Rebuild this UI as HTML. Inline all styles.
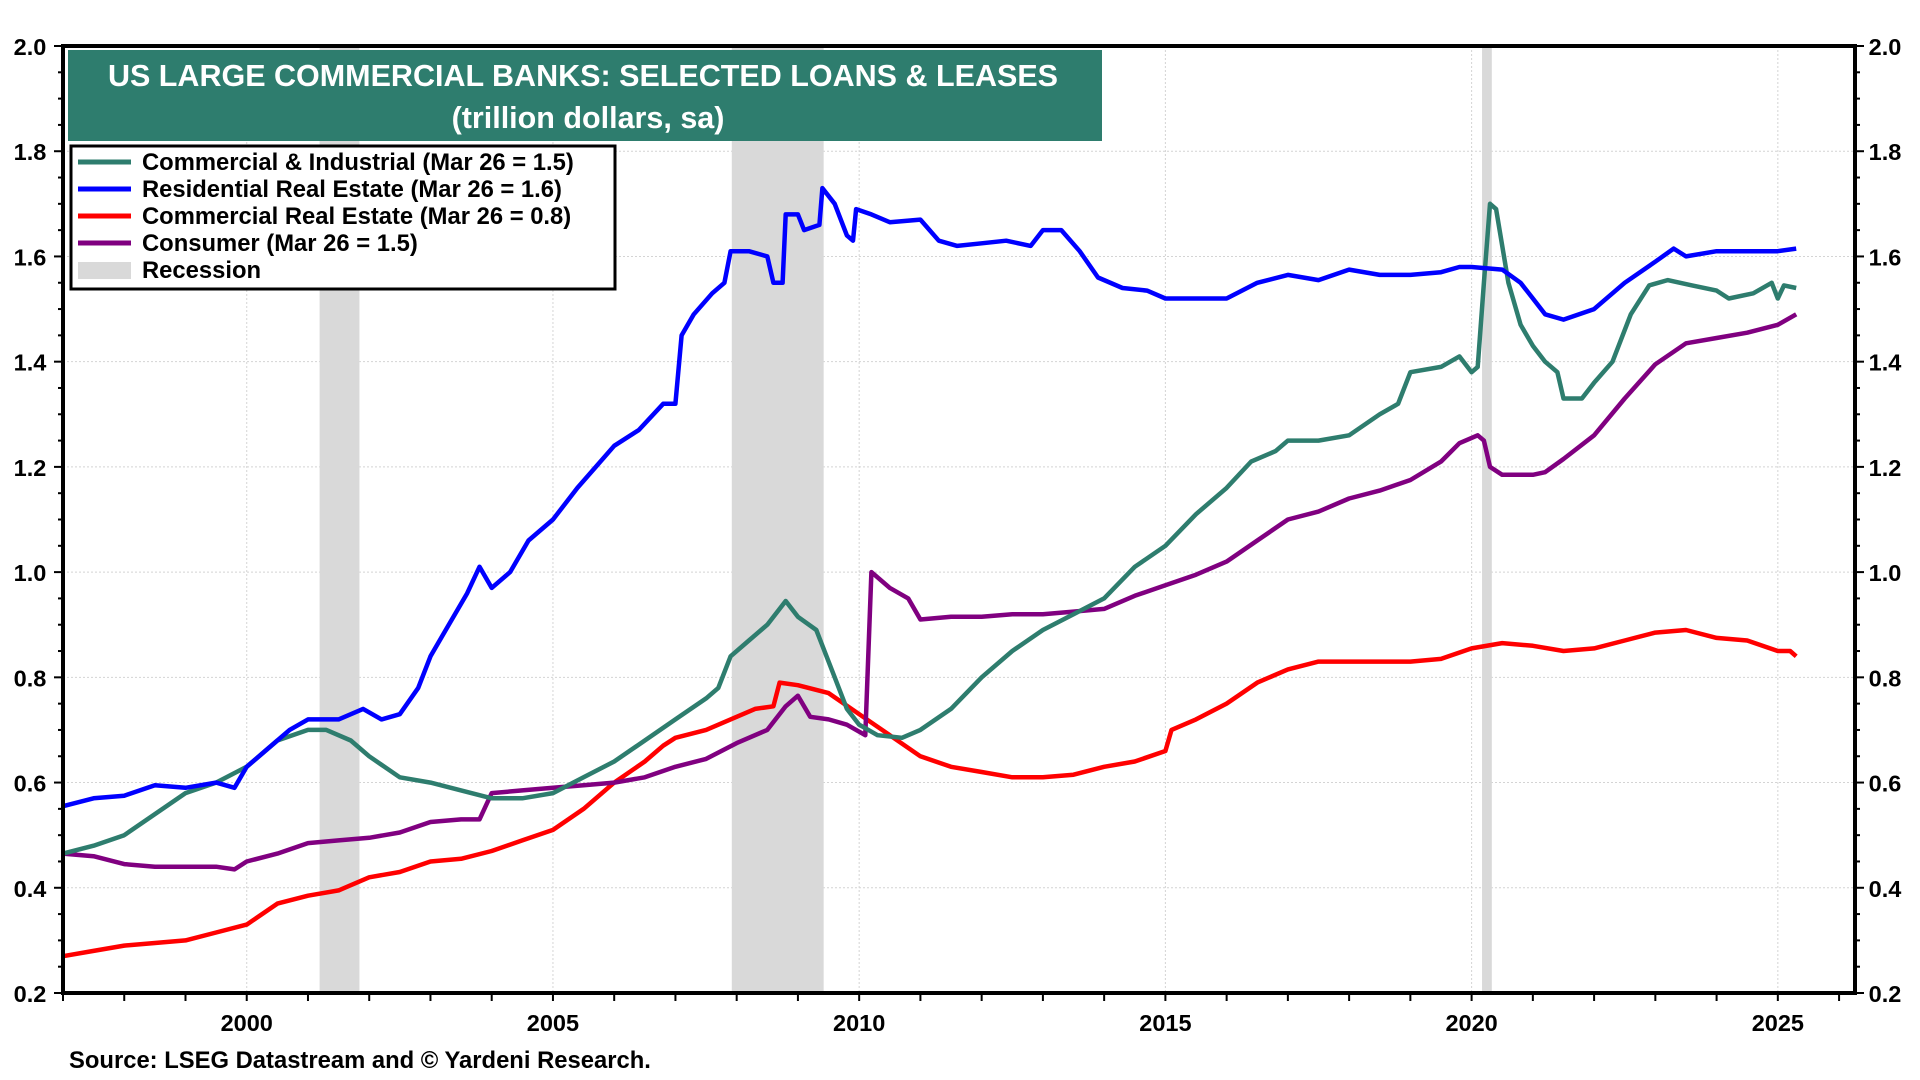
<!DOCTYPE html>
<html><head><meta charset="utf-8"><style>
html,body{margin:0;padding:0;background:#fff;}
svg{display:block;font-family:"Liberation Sans",Arial,sans-serif;font-weight:bold;}
</style></head><body>
<svg id="chart" width="1920" height="1080" viewBox="0 0 1920 1080" xmlns="http://www.w3.org/2000/svg">
<g id="grid"></g>
<g id="recessions"></g>
<g id="series"></g>
<g id="axes"></g>
<rect x="68" y="50" width="1034" height="91" fill="#2e7d6e"/>
<text x="583" y="86" text-anchor="middle" fill="#fff" font-size="30.5">US LARGE COMMERCIAL BANKS: SELECTED LOANS &amp; LEASES</text>
<text x="588" y="128" text-anchor="middle" fill="#fff" font-size="30.5">(trillion dollars, sa)</text>
<g>
<rect x="71" y="146" width="544" height="143" fill="#fff" stroke="#000" stroke-width="3"/>
<line x1="78" y1="162" x2="131" y2="162" stroke="#2e7d6e" stroke-width="5"/>
<text x="142" y="170" font-size="23.8">Commercial &amp; Industrial (Mar 26 = 1.5)</text>
<line x1="78" y1="189" x2="131" y2="189" stroke="#0000ff" stroke-width="5"/>
<text x="142" y="197" font-size="23.8">Residential Real Estate (Mar 26 = 1.6)</text>
<line x1="78" y1="216" x2="131" y2="216" stroke="#ff0000" stroke-width="5"/>
<text x="142" y="224" font-size="23.8">Commercial Real Estate (Mar 26 = 0.8)</text>
<line x1="78" y1="243" x2="131" y2="243" stroke="#800080" stroke-width="5"/>
<text x="142" y="251" font-size="23.8">Consumer (Mar 26 = 1.5)</text>
<rect x="78" y="262" width="53" height="17" fill="#d9d9d9"/>
<text x="142" y="278" font-size="23.8">Recession</text>
</g>
<text x="69" y="1068" font-size="23.8">Source: LSEG Datastream and © Yardeni Research.</text>
</svg>
<script>
const yTicks=[0.2,0.4,0.6,0.8,1.0,1.2,1.4,1.6,1.8,2.0];
const xTickLabels=[2000,2005,2010,2015,2020,2025];
const recessionStarts=[2001.19,2007.92,2020.17];
const recessionEnds=[2001.84,2009.42,2020.33];
const ciX=[1997,1997.5,1998,1998.5,1999,1999.5,2000,2000.5,2001,2001.3,2001.7,2002,2002.5,2003,2003.5,2004,2004.5,2005,2005.5,2006,2006.5,2007,2007.5,2007.7,2007.9,2008.2,2008.5,2008.8,2009,2009.3,2009.6,2009.8,2010,2010.3,2010.7,2011,2011.5,2012,2012.5,2013,2013.5,2014,2014.5,2015,2015.5,2016,2016.4,2016.8,2017,2017.5,2018,2018.5,2018.8,2019,2019.5,2019.8,2020,2020.1,2020.2,2020.3,2020.4,2020.6,2020.8,2021,2021.2,2021.4,2021.5,2021.8,2022,2022.3,2022.6,2022.9,2023.2,2023.6,2024,2024.2,2024.6,2024.9,2025,2025.1,2025.3];
const ciY=[0.465,0.48,0.50,0.54,0.58,0.60,0.63,0.68,0.70,0.70,0.68,0.65,0.61,0.60,0.585,0.57,0.57,0.58,0.61,0.64,0.68,0.72,0.76,0.78,0.84,0.87,0.90,0.945,0.915,0.89,0.80,0.74,0.71,0.69,0.685,0.70,0.74,0.80,0.85,0.89,0.92,0.95,1.01,1.05,1.11,1.16,1.21,1.23,1.25,1.25,1.26,1.30,1.32,1.38,1.39,1.41,1.38,1.39,1.55,1.70,1.69,1.55,1.47,1.43,1.40,1.38,1.33,1.33,1.36,1.40,1.49,1.545,1.555,1.545,1.535,1.52,1.53,1.55,1.52,1.545,1.54];
const rreX=[1997,1997.5,1998,1998.5,1999,1999.5,1999.8,2000,2000.3,2000.7,2001,2001.5,2001.9,2002.2,2002.5,2002.8,2003,2003.3,2003.6,2003.8,2004,2004.3,2004.6,2005,2005.4,2005.7,2006,2006.4,2006.8,2007,2007.1,2007.3,2007.6,2007.8,2007.9,2008.2,2008.5,2008.6,2008.75,2008.8,2009,2009.1,2009.35,2009.4,2009.6,2009.8,2009.9,2009.95,2010.2,2010.5,2011,2011.3,2011.6,2012,2012.4,2012.8,2013,2013.3,2013.6,2013.9,2014.3,2014.7,2015,2015.5,2016,2016.5,2017,2017.5,2018,2018.5,2019,2019.5,2019.8,2020,2020.5,2020.8,2021,2021.2,2021.5,2022,2022.5,2023,2023.3,2023.5,2024,2024.5,2025,2025.3];
const rreY=[0.555,0.57,0.575,0.595,0.59,0.60,0.59,0.63,0.66,0.70,0.72,0.72,0.74,0.72,0.73,0.78,0.84,0.90,0.96,1.01,0.97,1.00,1.06,1.10,1.16,1.20,1.24,1.27,1.32,1.32,1.45,1.49,1.53,1.55,1.61,1.61,1.60,1.55,1.55,1.68,1.68,1.65,1.66,1.73,1.70,1.64,1.63,1.69,1.68,1.665,1.67,1.63,1.62,1.625,1.63,1.62,1.65,1.65,1.61,1.56,1.54,1.535,1.52,1.52,1.52,1.55,1.565,1.555,1.575,1.565,1.565,1.57,1.58,1.58,1.575,1.55,1.52,1.49,1.48,1.50,1.55,1.59,1.615,1.60,1.61,1.61,1.61,1.615];
const creX=[1997,1997.5,1998,1998.5,1999,1999.5,2000,2000.5,2001,2001.5,2002,2002.5,2003,2003.5,2004,2004.5,2005,2005.5,2006,2006.5,2006.8,2007,2007.5,2008,2008.3,2008.6,2008.7,2009,2009.5,2010,2010.5,2011,2011.5,2012,2012.5,2013,2013.5,2014,2014.5,2015,2015.1,2015.5,2016,2016.5,2017,2017.5,2018,2018.5,2019,2019.5,2020,2020.5,2021,2021.5,2022,2022.5,2023,2023.5,2024,2024.5,2025,2025.2,2025.3];
const creY=[0.27,0.28,0.29,0.295,0.30,0.315,0.33,0.37,0.385,0.395,0.42,0.43,0.45,0.455,0.47,0.49,0.51,0.55,0.60,0.64,0.67,0.685,0.70,0.725,0.74,0.745,0.79,0.785,0.77,0.73,0.69,0.65,0.63,0.62,0.61,0.61,0.615,0.63,0.64,0.66,0.70,0.72,0.75,0.79,0.815,0.83,0.83,0.83,0.83,0.835,0.855,0.865,0.86,0.85,0.855,0.87,0.885,0.89,0.875,0.87,0.85,0.85,0.84];
const conX=[1997,1997.5,1998,1998.5,1999,1999.5,1999.8,2000,2000.5,2001,2001.5,2002,2002.5,2003,2003.5,2003.8,2004,2004.5,2005,2005.5,2006,2006.5,2007,2007.5,2008,2008.5,2008.8,2009,2009.2,2009.5,2009.8,2010.1,2010.2,2010.5,2010.8,2011,2011.5,2012,2012.5,2013,2013.5,2014,2014.5,2015,2015.5,2016,2016.5,2017,2017.5,2018,2018.5,2019,2019.5,2019.8,2020.1,2020.2,2020.3,2020.5,2021,2021.2,2021.5,2022,2022.5,2023,2023.5,2024,2024.5,2025,2025.3];
const conY=[0.465,0.46,0.445,0.44,0.44,0.44,0.435,0.45,0.465,0.485,0.49,0.495,0.505,0.525,0.53,0.53,0.58,0.585,0.59,0.595,0.60,0.61,0.63,0.645,0.675,0.70,0.745,0.765,0.725,0.72,0.71,0.69,1.00,0.97,0.95,0.91,0.915,0.915,0.92,0.92,0.925,0.93,0.955,0.975,0.995,1.02,1.06,1.10,1.115,1.14,1.155,1.175,1.21,1.245,1.26,1.25,1.20,1.185,1.185,1.19,1.215,1.26,1.33,1.395,1.435,1.445,1.455,1.47,1.49];

const NS='http://www.w3.org/2000/svg';
const L=63,R=1855,T=46,B=993;
const x0=1997.0,x1=2026.26,v0=0.2,v1=2.0;
function xs(v){return L+(v-x0)/(x1-x0)*(R-L);}
function ys(v){return B-(v-v0)/(v1-v0)*(B-T);}
function mk(tag,attrs,parent){const e=document.createElementNS(NS,tag);for(const k in attrs)e.setAttribute(k,attrs[k]);parent.appendChild(e);return e;}
const grid=document.getElementById('grid'),axes=document.getElementById('axes'),rec=document.getElementById('recessions'),ser=document.getElementById('series');

yTicks.forEach(t=>{
  if(t>v0&&t<v1){const g=mk('line',{x1:L,x2:R,y1:ys(t),y2:ys(t),stroke:'#d4d4d4','stroke-width':1,'stroke-dasharray':'2,2'},grid);
  
  }
  const a=mk('text',{x:30,y:ys(t)+9,'text-anchor':'middle','font-size':23.5},axes);a.textContent=t.toFixed(1);
  
  
  const b=mk('text',{x:1885,y:ys(t)+9,'text-anchor':'middle','font-size':23.5},axes);b.textContent=t.toFixed(1);
  
  
});
xTickLabels.forEach(t=>{
  const g=mk('line',{x1:xs(t),x2:xs(t),y1:T,y2:B,stroke:'#d4d4d4','stroke-width':1,'stroke-dasharray':'2,2'},grid);
  
  
  const a=mk('text',{x:xs(t),y:1031,'text-anchor':'middle','font-size':23.5},axes);a.textContent=t;
  
  
});
recessionStarts.forEach((s,i)=>{
  const r=mk('rect',{x:xs(s),y:T,width:xs(recessionEnds[i])-xs(s),height:B-T,fill:'#d9d9d9'},rec);
  
  
});
function line(X,Y,color,name){
  const d=X.map((x,i)=>(i?'L':'M')+xs(x).toFixed(1)+','+ys(Y[i]).toFixed(1)).join('');
  const p=mk('path',{d:d,fill:'none',stroke:color,'stroke-width':4.5,'stroke-linejoin':'round'},ser);
  
  
}
line(creX,creY,'#ff0000','cre-line');
line(conX,conY,'#800080','consumer-line');
line(ciX,ciY,'#2e7d6e','ci-line');
line(rreX,rreY,'#0000ff','rre-line');
mk('rect',{x:L,y:T,width:R-L,height:B-T,fill:'none',stroke:'#000','stroke-width':4},axes);
for(let v=0.2;v<=2.0001;v+=0.05){
  const major=Math.abs(v*5-Math.round(v*5))<1e-6;
  mk('line',{x1:L-(major?9:5),x2:L,y1:ys(v),y2:ys(v),stroke:'#000','stroke-width':2},axes);
  mk('line',{x1:R,x2:R+(major?9:5),y1:ys(v),y2:ys(v),stroke:'#000','stroke-width':2},axes);
}
for(let y=1997;y<=2026;y++){
  mk('line',{x1:xs(y),x2:xs(y),y1:B,y2:B+8,stroke:'#000','stroke-width':2},axes);
}
</script>
</body></html>
